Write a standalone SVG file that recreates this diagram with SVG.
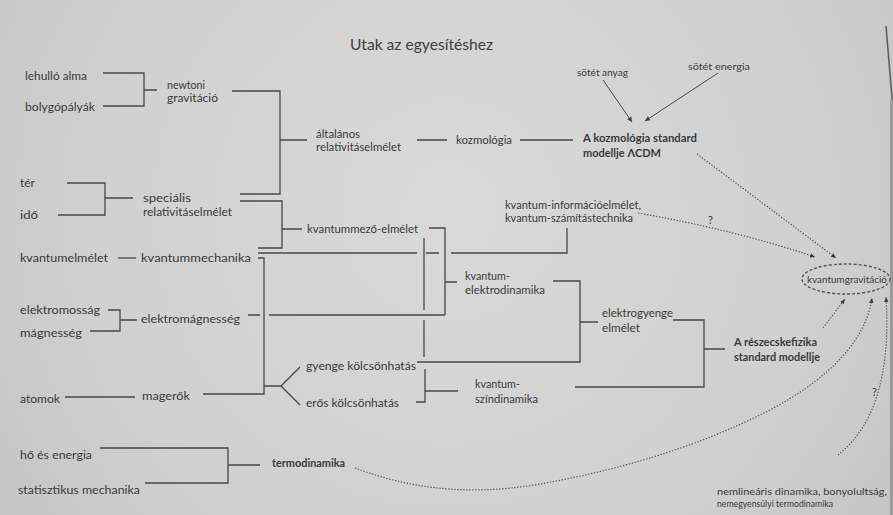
<svg xmlns="http://www.w3.org/2000/svg" width="893" height="515" viewBox="0 0 893 515">
<defs>
<radialGradient id="bg" cx="450" cy="210" r="620" gradientUnits="userSpaceOnUse">
<stop offset="0" stop-color="#d9d9d9"/>
<stop offset="0.6" stop-color="#d0d0d0"/>
<stop offset="1" stop-color="#bfbfbf"/>
</radialGradient>
<marker id="ah" markerWidth="6" markerHeight="6" refX="5" refY="3" orient="auto" markerUnits="userSpaceOnUse">
<path d="M0,0.5 L5,3 L0,5.5 Z" fill="#3a3a3a"/>
</marker>
<marker id="ad" markerWidth="6" markerHeight="6" refX="5" refY="3" orient="auto" markerUnits="userSpaceOnUse">
<path d="M0,0.8 L5,3 L0,5.2 Z" fill="#3a3a3a"/>
</marker>
</defs>
<style>
text{font-family:Lato,"Open Sans","DejaVu Sans",sans-serif;fill:#3a3a3a;font-size:11px}
.b{font-weight:700}
.s{font-size:9.5px}
.t{font-size:16px;fill:#404040}
.ln{fill:none;stroke:#474747;stroke-width:1.3}
.th{fill:none;stroke:#4a4a4a;stroke-width:1}
.dt{fill:none;stroke:#5a5a5a;stroke-width:1.2;stroke-dasharray:1.4 1.6}
.el{fill:none;stroke:#555;stroke-width:1.4;stroke-dasharray:3 2}
</style>
<rect width="893" height="515" fill="url(#bg)"/>
<path d="M886 26 L893 110" stroke="#5a5a5a" stroke-width="1.5" fill="none"/>
<rect x="890" y="100" width="3" height="415" fill="#9a9a9a"/>

<text class="t" x="350" y="50" textLength="143" lengthAdjust="spacingAndGlyphs">Utak az egyesítéshez</text>

<g id="connectors">
<path class="ln" d="M103 73 H144 V106 H103 M144 90 H157"/>
<path class="ln" d="M232 91 H280 V194 H240 M280 140 H307"/>
<path class="ln" d="M67 183 H105 V215 H58 M105 198 H133"/>
<path class="ln" d="M240 201 H282 V248 H258 M282 229 H302"/>
<path class="ln" d="M417 140 H447 M520 140 H573"/>
<path class="ln" d="M258 253 H417 M426 253 H439 M451 253 H567 V228"/>
<path class="ln" d="M429 228 H445 V315 M445 282 H457"/>
<path class="ln" d="M248 315 H260 M269 315 H445"/>
<path class="ln" d="M258 258 H264 V394 H203 M264 386 H281 L300 367 M281 386 L300 405"/>
<path class="ln" d="M118 258 H136"/>
<path class="ln" d="M108 310 H120 V331 H90 M120 320 H137"/>
<path class="ln" d="M65 397 H135"/>
<path class="ln" d="M424 238 V310 M424 320 V357 M425 369 V402 H416 M425 391 H458"/>
<path class="ln" d="M417 362 H580 V281 H553 M580 322 H598"/>
<path class="ln" d="M673 320 H704 V387 H575 M704 349 H725"/>
<path class="ln" d="M100 448 H228 V483 H145 M228 465 H260"/>
<path class="th" d="M603 80 L632 122" marker-end="url(#ah)"/>
<path class="th" d="M718 73 L645 121" marker-end="url(#ah)"/>
<path class="dt" d="M697 154 L836 258" marker-end="url(#ad)"/>
<path class="dt" d="M638 213 Q 735 230 815 257" marker-end="url(#ad)"/>
<path class="dt" d="M823 328 L845 299" marker-end="url(#ad)"/>
<path class="dt" d="M355 468 C 400 485, 460 498, 540 484 C 620 470, 700 446, 770 410 C 830 378, 866 340, 872 298" marker-end="url(#ad)"/>
<path class="dt" d="M838 455 C 872 428, 891 380, 886 297" marker-end="url(#ad)"/>
</g>

<g id="n-lehullo"><text x="25" y="80" textLength="62" lengthAdjust="spacingAndGlyphs">lehulló alma</text></g>
<g id="n-bolygo"><text x="25" y="111" textLength="70" lengthAdjust="spacingAndGlyphs">bolygópályák</text></g>
<g id="n-newtoni"><text x="167" y="89" textLength="38" lengthAdjust="spacingAndGlyphs">newtoni</text><text x="167" y="102" textLength="51" lengthAdjust="spacingAndGlyphs">gravitáció</text></g>
<g id="n-ter"><text x="20" y="187" textLength="15" lengthAdjust="spacingAndGlyphs">tér</text></g>
<g id="n-ido"><text x="20" y="219" textLength="18" lengthAdjust="spacingAndGlyphs">idő</text></g>
<g id="n-specrel"><text x="143" y="202" textLength="48" lengthAdjust="spacingAndGlyphs">speciális</text><text x="143" y="216" textLength="89" lengthAdjust="spacingAndGlyphs">relativitáselmélet</text></g>
<g id="n-altrel"><text x="316" y="138" textLength="44" lengthAdjust="spacingAndGlyphs">általános</text><text x="316" y="151" textLength="85" lengthAdjust="spacingAndGlyphs">relativitáselmélet</text></g>
<g id="n-kozmologia"><text x="456" y="144" textLength="56" lengthAdjust="spacingAndGlyphs">kozmológia</text></g>
<g id="n-lcdm"><text class="b" x="583" y="142" textLength="114" lengthAdjust="spacingAndGlyphs">A kozmológia standard</text><text class="b" x="583" y="157" textLength="78" lengthAdjust="spacingAndGlyphs">modellje ΛCDM</text></g>
<g id="n-sotetanyag"><text class="s" x="577" y="76" textLength="51" lengthAdjust="spacingAndGlyphs">sötét anyag</text></g>
<g id="n-sotetenergia"><text class="s" x="688" y="70" textLength="62" lengthAdjust="spacingAndGlyphs">sötét energia</text></g>
<g id="n-kvinfo"><text x="505" y="209" textLength="136" lengthAdjust="spacingAndGlyphs">kvantum-információelmélet,</text><text x="505" y="222" textLength="128" lengthAdjust="spacingAndGlyphs">kvantum-számítástechnika</text></g>
<g id="n-q1"><text x="708" y="224">?</text></g>
<g id="n-kvmezo"><text x="307" y="233" textLength="111" lengthAdjust="spacingAndGlyphs">kvantummező-elmélet</text></g>
<g id="n-kvelmelet"><text x="20" y="262" textLength="88" lengthAdjust="spacingAndGlyphs">kvantumelmélet</text></g>
<g id="n-kvmech"><text x="141" y="262" textLength="110" lengthAdjust="spacingAndGlyphs">kvantummechanika</text></g>
<g id="n-qed"><text x="465" y="280" textLength="45" lengthAdjust="spacingAndGlyphs">kvantum-</text><text x="465" y="294" textLength="80" lengthAdjust="spacingAndGlyphs">elektrodinamika</text></g>
<g id="n-elektromossag"><text x="20" y="314" textLength="80" lengthAdjust="spacingAndGlyphs">elektromosság</text></g>
<g id="n-magnesseg"><text x="20" y="337" textLength="62" lengthAdjust="spacingAndGlyphs">mágnesség</text></g>
<g id="n-elektromagn"><text x="141" y="323" textLength="99" lengthAdjust="spacingAndGlyphs">elektromágnesség</text></g>
<g id="n-elektrogyenge"><text x="602" y="317" textLength="71" lengthAdjust="spacingAndGlyphs">elektrogyenge</text><text x="602" y="332" textLength="38" lengthAdjust="spacingAndGlyphs">elmélet</text></g>
<g id="n-standard"><text class="b" x="734" y="346" textLength="83" lengthAdjust="spacingAndGlyphs">A részecskefizika</text><text class="b" x="734" y="361" textLength="86" lengthAdjust="spacingAndGlyphs">standard modellje</text></g>
<g id="n-gyenge"><text x="306" y="370" textLength="110" lengthAdjust="spacingAndGlyphs">gyenge kölcsönhatás</text></g>
<g id="n-eros"><text x="306" y="407" textLength="93" lengthAdjust="spacingAndGlyphs">erős kölcsönhatás</text></g>
<g id="n-qcd"><text x="475" y="388" textLength="45" lengthAdjust="spacingAndGlyphs">kvantum-</text><text x="475" y="403" textLength="63" lengthAdjust="spacingAndGlyphs">színdinamika</text></g>
<g id="n-atomok"><text x="20" y="403" textLength="40" lengthAdjust="spacingAndGlyphs">atomok</text></g>
<g id="n-magerok"><text x="142" y="400" textLength="48" lengthAdjust="spacingAndGlyphs">magerők</text></g>
<g id="n-q2"><text x="872" y="396">?</text></g>
<g id="n-ho"><text x="20" y="459" textLength="72" lengthAdjust="spacingAndGlyphs">hő és energia</text></g>
<g id="n-stat"><text x="18" y="494" textLength="122" lengthAdjust="spacingAndGlyphs">statisztikus mechanika</text></g>
<g id="n-termo"><text class="b" x="272" y="467" textLength="73" lengthAdjust="spacingAndGlyphs">termodinamika</text></g>
<g id="n-nemlin"><text class="s" x="717" y="495" textLength="170" lengthAdjust="spacingAndGlyphs">nemlineáris dinamika, bonyolultság,</text><text class="s" x="717" y="507" textLength="116" lengthAdjust="spacingAndGlyphs">nemegyensúlyi termodinamika</text></g>
<g id="n-kvgrav"><ellipse class="el" cx="846" cy="279" rx="44" ry="15"/><text class="s" x="807" y="283" textLength="80" lengthAdjust="spacingAndGlyphs">kvantumgravitáció</text></g>
</svg>
